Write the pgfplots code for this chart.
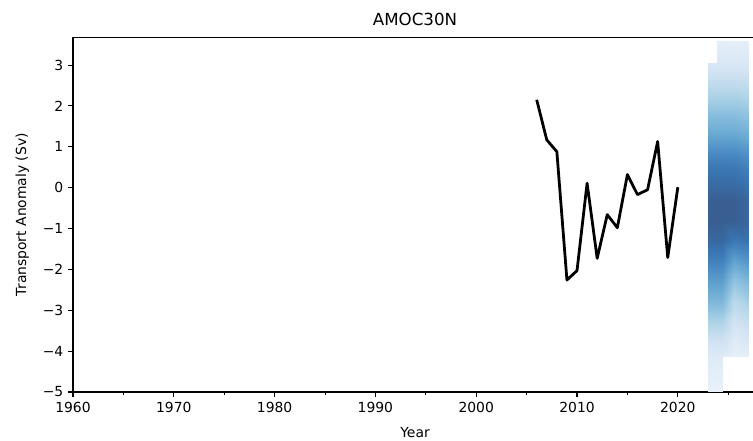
\documentclass[border=0pt]{standalone}
\usepackage{fontspec}
\setmainfont{DejaVu Sans}
\usepackage{pgfplots}
\pgfplotsset{compat=1.18}

% Blues colour scale, pre-blended at 80% opacity over white
\pgfplotsset{
  colormap={bluesA}{
    rgb255=(249,252,255) rgb255=(229,239,249) rgb255=(209,226,242)
    rgb255=(177,213,231) rgb255=(137,190,222) rgb255=(104,168,209)
    rgb255=(77,141,196)  rgb255=(57,116,176)  rgb255=(57,89,137)
  }
}

\begin{document}
\begin{tikzpicture}
\begin{axis}[
  at={(0,0)}, anchor=south west,
  scale only axis,
  width=492.5pt, height=255.4pt,
  xmin=1960, xmax=2027.86,
  ymin=-5, ymax=3.68,
  axis line style={line width=0.8pt},
  tick align=outside,
  xtick pos=bottom, ytick pos=left,
  major tick length=3.5pt, minor tick length=2pt,
  every tick/.style={black, line width=0.8pt},
  every minor tick/.append style={line width=0.6pt},
  xtick={1960,1970,...,2020},
  minor xtick={1965,1975,...,2025},
  ytick={-5,-4,...,3},
  yticklabels={−5,−4,−3,−2,−1,0,1,2,3},
  /pgf/number format/1000 sep={},
  /pgf/number format/assume math mode=true,
  tick label style={font=\fontsize{10}{12}\selectfont},
  xlabel={Year}, ylabel={Transport Anomaly (Sv)},
  label style={font=\fontsize{10}{12}\selectfont},
  xlabel style={yshift=-4pt},
  ylabel style={yshift=3pt},
  title={AMOC30N},
  title style={font=\fontsize{12}{14}\selectfont, yshift=-1pt},
  colormap name=bluesA,
  point meta min=0, point meta max=1,
  clip=true,
]
% forecast density plume, 2023 to early 2024
\addplot[surf, shader=interp, mesh/cols=2, point meta=explicit]
table[x=x, y=y, meta=c] {
x y c
2023 -5.00 0.10
2023.9 -5.00 0.10
2023 -4.60 0.13
2023.9 -4.60 0.13
2023 -4.13 0.17
2023.9 -4.13 0.17
2023 -3.72 0.26
2023.9 -3.72 0.26
2023 -3.23 0.40
2023.9 -3.23 0.40
2023 -2.74 0.55
2023.9 -2.74 0.55
2023 -2.26 0.68
2023.9 -2.26 0.68
2023 -1.77 0.82
2023.9 -1.77 0.82
2023 -1.28 0.93
2023.9 -1.28 0.93
2023 -0.80 0.98
2023.9 -0.80 0.98
2023 -0.31 0.97
2023.9 -0.31 0.97
2023 0.42 0.87
2023.9 0.42 0.87
2023 0.79 0.78
2023.9 0.79 0.78
2023 1.39 0.60
2023.9 1.39 0.60
2023 2.12 0.42
2023.9 2.12 0.42
2023 2.60 0.30
2023.9 2.60 0.30
2023 3.06 0.20
2023.9 3.06 0.20
};
% forecast density plume, transition column
\addplot[surf, shader=interp, mesh/cols=2, point meta=explicit]
table[x=x, y=y, meta=c] {
x y c
2023.9 -5.00 0.10
2024.4 -5.00 0.10
2023.9 -4.60 0.13
2024.4 -4.60 0.13
2023.9 -4.13 0.17
2024.4 -4.13 0.17
2023.9 -3.72 0.26
2024.4 -3.72 0.26
2023.9 -3.23 0.40
2024.4 -3.23 0.40
2023.9 -2.74 0.55
2024.4 -2.74 0.55
2023.9 -2.26 0.68
2024.4 -2.26 0.68
2023.9 -1.77 0.82
2024.4 -1.77 0.82
2023.9 -1.28 0.93
2024.4 -1.28 0.93
2023.9 -0.80 0.98
2024.4 -0.80 0.98
2023.9 -0.31 0.97
2024.4 -0.31 0.97
2023.9 0.42 0.87
2024.4 0.42 0.87
2023.9 0.79 0.78
2024.4 0.79 0.78
2023.9 1.39 0.60
2024.4 1.39 0.60
2023.9 2.12 0.42
2024.4 2.12 0.42
2023.9 2.60 0.30
2024.4 2.60 0.30
2023.9 3.06 0.20
2024.4 3.06 0.20
2023.9 3.58 0.13
2024.4 3.58 0.13
};
% forecast density plume, 2024 to 2027
\addplot[surf, shader=interp, mesh/cols=3, point meta=explicit]
table[x=x, y=y, meta=c] {
x y c
2024.4 -4.13 0.17
2025.6 -4.13 0.12
2027 -4.13 0.14
2024.4 -3.72 0.26
2025.6 -3.72 0.17
2027 -3.72 0.20
2024.4 -3.23 0.40
2025.6 -3.23 0.25
2027 -3.23 0.30
2024.4 -2.74 0.55
2025.6 -2.74 0.35
2027 -2.74 0.42
2024.4 -2.26 0.68
2025.6 -2.26 0.48
2027 -2.26 0.55
2024.4 -1.77 0.82
2025.6 -1.77 0.66
2027 -1.77 0.72
2024.4 -1.28 0.93
2025.6 -1.28 0.86
2027 -1.28 0.88
2024.4 -0.80 0.98
2025.6 -0.80 0.97
2027 -0.80 0.94
2024.4 -0.31 0.97
2025.6 -0.31 0.97
2027 -0.31 0.93
2024.4 0.42 0.87
2025.6 0.42 0.87
2027 0.42 0.83
2024.4 0.79 0.78
2025.6 0.79 0.78
2027 0.79 0.74
2024.4 1.39 0.60
2025.6 1.39 0.60
2027 1.39 0.57
2024.4 2.12 0.42
2025.6 2.12 0.42
2027 2.12 0.40
2024.4 2.60 0.30
2025.6 2.60 0.30
2027 2.60 0.29
2024.4 3.06 0.20
2025.6 3.06 0.20
2027 3.06 0.19
2024.4 3.58 0.13
2025.6 3.58 0.13
2027 3.58 0.13
};
% observed annual-mean transport anomaly
\addplot[black, line width=2pt, line join=round, mark=none] coordinates {
(2006,2.15) (2007,1.17) (2008,0.88) (2009,-2.26) (2010,-2.03)
(2011,0.11) (2012,-1.73) (2013,-0.66) (2014,-0.98) (2015,0.32)
(2016,-0.17) (2017,-0.05) (2018,1.13) (2019,-1.71) (2020,0.01)
};
\end{axis}
\pgfresetboundingbox
\path[use as bounding box] (-52.56pt,-35.28pt) rectangle (489.6pt,282.24pt);
\end{tikzpicture}
\end{document}
